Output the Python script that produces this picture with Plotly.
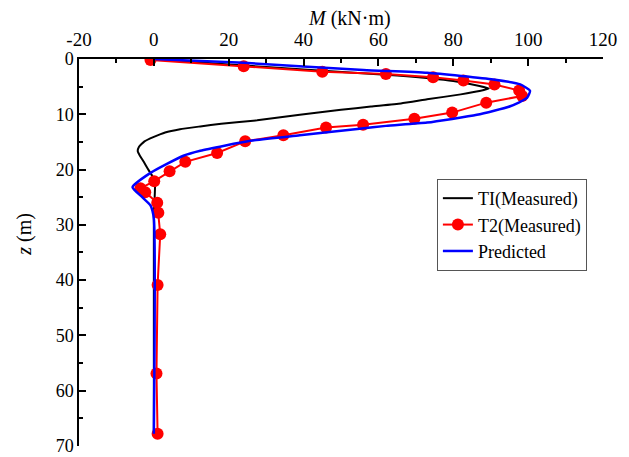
import plotly.graph_objects as go

# T1 (measured) - black line
t1_M = [0, 20, 42, 65, 80, 87, 89.5, 87, 82, 73, 66, 58, 50, 39, 27.6, 18, 12.4, 7, 3, 0, -2.5, -4, -4.3, -3.8, -2.7, -1.5, -0.4, 0.3, 0.2, 0, 0]
t1_z = [0, 1.0, 2.0, 3.0, 4.0, 4.9, 5.35, 5.8, 6.4, 7.3, 8.05, 8.6, 9.2, 10.1, 11.1, 11.7, 12.2, 12.7, 13.3, 14.1, 14.9, 15.9, 16.7, 17.4, 18.6, 20.0, 21.2, 22.7, 25.2, 28.2, 67.8]

# T2 (measured) - red line with markers
t2_M = [-0.9, 24, 45, 62, 74.6, 82.7, 91, 97.6, 98.4, 88.8, 79.7, 69.6, 55.9, 46, 34.6, 24.4, 16.9, 8.4, 4.2, 0.1, -3.6, -2.3, 0.9, 1.2, 1.7, 1.0, 0.7, 1.0]
t2_z = [0.2, 1.3, 2.3, 2.7, 3.3, 3.9, 4.6, 5.7, 6.7, 7.9, 9.7, 10.8, 11.9, 12.4, 13.8, 14.9, 17.0, 18.6, 20.3, 22.1, 23.4, 24.1, 26.0, 27.8, 31.7, 40.9, 56.9, 67.8]

# Predicted - blue line
pr_M = [0, 24, 56, 73, 90.7, 97.9, 100.5, 99.7, 95.2, 86.3, 73, 62, 55, 39, 25.8, 12.4, 7.9, -0.9, -5.7, -3.1, -0.9, 0, 0]
pr_z = [0, 0.7, 2.0, 2.5, 3.7, 4.6, 5.75, 7.05, 8.55, 10.1, 11.5, 12.1, 12.6, 13.8, 14.8, 16.6, 17.5, 20.6, 23.2, 25.0, 26.5, 28.9, 67.8]

x_ticks = [-20, 0, 20, 40, 60, 80, 100, 120]
x_labels = ["-20", "0", "20", "40", "60", "80", "100", "120"]
y_ticks = [0, 10, 20, 30, 40, 50, 60, 70]
y_labels = ["0", "10", "20", "30", "40", "50", "60", "70"]

FONT = "Liberation Serif"

fig = go.Figure()
fig.add_trace(go.Scatter(x=t1_M, y=t1_z, mode="lines", name="TI(Measured)",
                         line=dict(color="black", width=2, shape="spline", smoothing=0.4)))
fig.add_trace(go.Scatter(x=t2_M, y=t2_z, mode="lines+markers", name="T2(Measured)",
                         line=dict(color="#ff0000", width=2),
                         marker=dict(color="#ff0000", size=12)))
fig.add_trace(go.Scatter(x=pr_M, y=pr_z, mode="lines", name="Predicted",
                         line=dict(color="#0000ff", width=2.5, shape="spline", smoothing=0.5)))

fig.update_layout(
    width=629, height=457,
    margin=dict(l=79, r=26, t=59, b=11, autoexpand=False),
    paper_bgcolor="white", plot_bgcolor="white",
    font=dict(family=FONT, size=18, color="black"),
    showlegend=True,
    legend=dict(x=0.683, y=0.69, xanchor="left", yanchor="top",
                bordercolor="#555555", borderwidth=1, bgcolor="white",
                font=dict(family=FONT, size=18), tracegroupgap=0,
                itemwidth=30),
    xaxis=dict(side="top", range=[-20, 120], tickmode="array",
               tickvals=x_ticks, ticktext=x_labels, automargin=False,
               showline=True, linecolor="black", linewidth=1.5,
               ticks="inside", ticklen=7, tickcolor="black", tickwidth=1.5,
               minor=dict(ticks="inside", ticklen=4, dtick=10, tickcolor="black", tickwidth=1.5),
               showgrid=False, zeroline=False, ticklabelstandoff=4,
               ticklabeloverflow="allow",
               tickfont=dict(family=FONT, size=19)),
    yaxis=dict(range=[70.02, 0], tickmode="array",
               tickvals=y_ticks, ticktext=y_labels, automargin=False,
               showline=True, linecolor="black", linewidth=1.5,
               ticks="inside", ticklen=7, tickcolor="black", tickwidth=1.5,
               minor=dict(ticks="inside", ticklen=4, dtick=5, tickcolor="black", tickwidth=1.5),
               showgrid=False, zeroline=False, ticklabeloverflow="allow",
               tickfont=dict(family=FONT, size=18)),
    annotations=[
        dict(text="<i>M</i> (kN·m)", x=0.5, y=1.105, xref="paper", yref="paper",
             xanchor="center", yanchor="middle", xshift=8, showarrow=False,
             font=dict(family=FONT, size=20)),
        dict(text="<i>z</i> (m)", x=-0.103, y=0.546, xref="paper", yref="paper",
             xanchor="center", yanchor="middle", textangle=-90,
             showarrow=False, font=dict(family=FONT, size=20)),
    ],
)

fig.write_html("out.html")
